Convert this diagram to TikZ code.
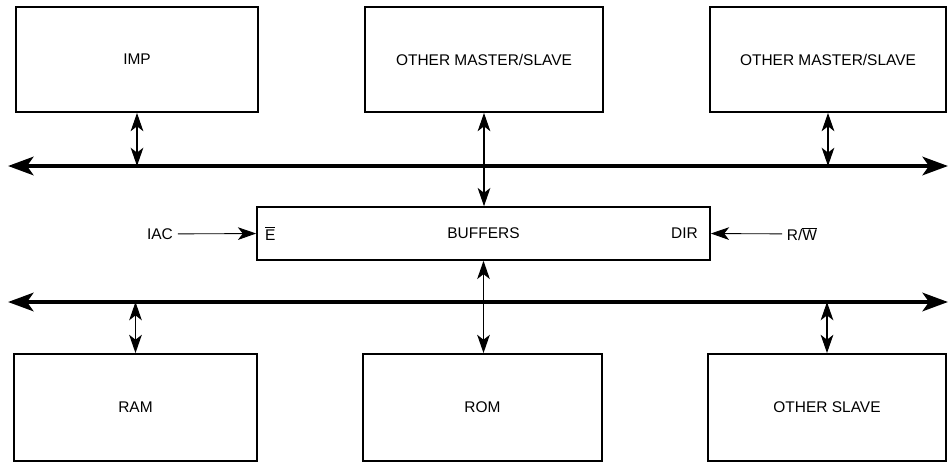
\documentclass[tikz,border=0pt]{standalone}
\usepackage{fontspec}
\setmainfont{Liberation Sans}
\usetikzlibrary{arrows.meta}
\newcommand{\negbar}[1]{$\overline{\hbox{#1}}$}

\begin{document}
\begin{tikzpicture}[x=0.025cm, y=-0.025cm,
    font=\fontsize{11}{13}\selectfont,
    unit/.style={draw, line width=1.3pt, minimum height=2.625cm},
    bus/.style={line width=3.2pt, {Stealth[length=18pt,width=13pt,inset=4.5pt]}-{Stealth[length=18pt,width=13pt,inset=4.5pt]}},
    link/.style={line width=0.8pt, {Stealth[length=13pt,width=9pt,inset=3.5pt]}-{Stealth[length=13pt,width=9pt,inset=3.5pt]}},
    ctrl/.style={line width=0.6pt, -{Stealth[length=13pt,width=9pt,inset=3.5pt]}}]
    \useasboundingbox (0,0) rectangle (949,462);
    % masters on top
    \node[unit, minimum width=6.05cm] (imp) at (137,59.5) {IMP};
    \node[unit, minimum width=5.95cm] (oms) at (484,59.5) {OTHER MASTER/SLAVE};
    \node[unit, minimum width=5.9cm] (omsr) at (828,59.5) {OTHER MASTER/SLAVE};
    % slaves below
    \node[unit, minimum width=6.075cm, minimum height=2.675cm] (ram) at (135.5,407.5) {RAM};
    \node[unit, minimum width=5.975cm, minimum height=2.675cm] (rom) at (482.5,407.5) {ROM};
    \node[unit, minimum width=5.95cm, minimum height=2.675cm] (oslave) at (827,407.5) {OTHER SLAVE};
    % buffers
    \node[draw, line width=1.1pt, minimum width=11.325cm, minimum height=1.325cm] (buf) at (483.5,233.5) {BUFFERS};
    \node[anchor=west] (en) at ([xshift=0.1cm]buf.west) {\negbar{E}};
    \node[anchor=east] (dir) at ([xshift=-0.2cm]buf.east) {DIR};
    \node (iac) at (160,234) {IAC};
    \node (rw) at (802,234) {R/\negbar{W}};
    \draw[ctrl] (iac) -- (buf.west);
    \draw[ctrl] (rw) -- (buf.east);
    % buses
    \coordinate (tl) at (8,166);
    \coordinate (tr) at (948,166);
    \coordinate (bl) at (8,302);
    \coordinate (br) at (948,302);
    \draw[bus] (tl) -- (tr);
    \draw[bus] (bl) -- (br);
    \draw[link] (imp.south) -- (imp.south |- tl);
    \draw[link] (omsr.south) -- (omsr.south |- tl);
    \draw[link] (oms.south) -- (oms.south |- buf.north);
    \draw[link] (buf.south) -- (buf.south |- rom.north);
    \draw[link] (ram.north) -- (ram.north |- bl);
    \draw[link] (oslave.north) -- (oslave.north |- bl);
\end{tikzpicture}
\end{document}
